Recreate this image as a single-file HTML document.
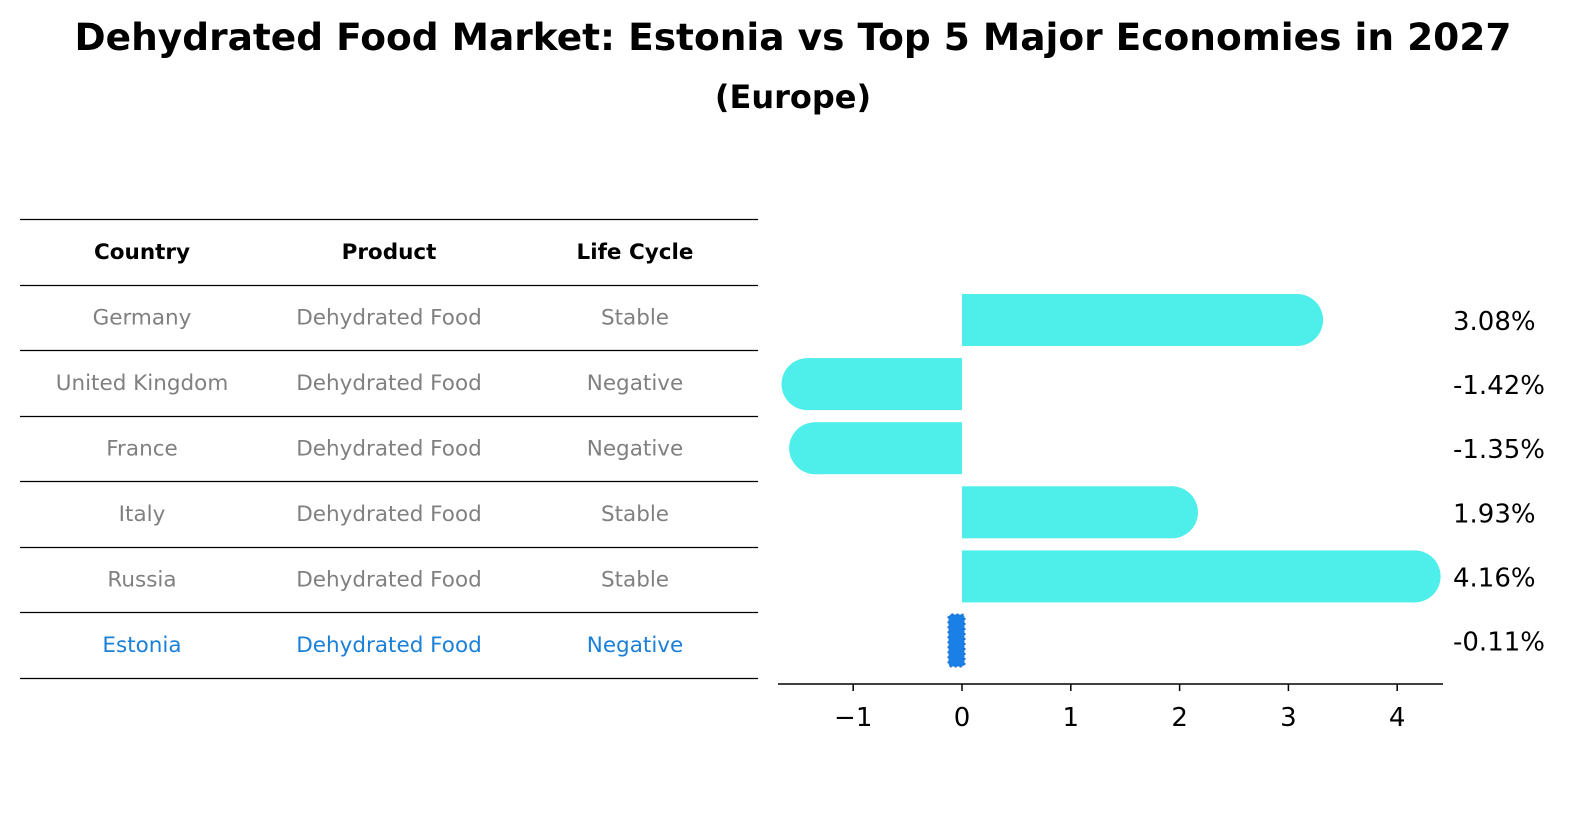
<!DOCTYPE html>
<html><head><meta charset="utf-8">
<style>
body{margin:0;background:#fff;font-family:"Liberation Sans","DejaVu Sans",sans-serif;}
#wrap{position:relative;width:1596px;height:823px;overflow:hidden;}
</style></head>
<body>
<div id="wrap">
<svg id="svg" width="1596" height="823" xmlns="http://www.w3.org/2000/svg">
<text x="793" y="50" text-anchor="middle" font-size="37.5" font-weight="bold" font-family="DejaVu Sans, Liberation Sans, sans-serif">Dehydrated Food Market: Estonia vs Top 5 Major Economies in 2027</text>
<text x="793" y="108" text-anchor="middle" font-size="32" font-weight="bold" font-family="DejaVu Sans, Liberation Sans, sans-serif">(Europe)</text>
<g id="table"></g>
<g id="bars"></g>
</svg>
</div>
<script>
const countries=["Germany","United Kingdom","France","Italy","Russia","Estonia"];
const products=["Dehydrated Food","Dehydrated Food","Dehydrated Food","Dehydrated Food","Dehydrated Food","Dehydrated Food"];
const lifeCycles=["Stable","Negative","Negative","Stable","Stable","Negative"];
const growth=[3.08,-1.42,-1.35,1.93,4.16,-0.11];
const valueLabels=["3.08%","-1.42%","-1.35%","1.93%","4.16%","-0.11%"];
const ticks=[-1,0,1,2,3,4];

const NS="http://www.w3.org/2000/svg";
function mk(tag,attrs,parent,text){const e=document.createElementNS(NS,tag);for(const k in attrs)e.setAttribute(k,attrs[k]);if(text!==undefined)e.textContent=text;parent.appendChild(e);return e;}
const FONT="DejaVu Sans, Liberation Sans, sans-serif";

// table
const tbl=document.getElementById('table');
const lineYs=[219,285,350,416,481,547,612,678];
lineYs.forEach((y,i)=>{const l=mk('line',{x1:20,x2:758,y1:y+0.5,y2:y+0.5,stroke:'#000','stroke-width':1.2},tbl);

});
const colX=[142,389,635];
["Country","Product","Life Cycle"].forEach((h,i)=>{const t=mk('text',{x:colX[i],y:259,'text-anchor':'middle','font-size':21.5,'font-weight':'bold','font-family':FONT},tbl,h);

});
countries.forEach((c,r)=>{
  const y=(lineYs[r+1]+lineYs[r+2])/2+7;
  const col=r===countries.length-1?'#1a80d9':'#808080';
  [c,products[r],lifeCycles[r]].forEach((v,i)=>{const t=mk('text',{x:colX[i],y:y,'text-anchor':'middle','font-size':21.5,fill:col,'font-family':FONT},tbl,v);
  
  });
});

// bars
const g=document.getElementById('bars');
const x0=962,unit=108.8;
const xs=v=>x0+v*unit;
const rowY=i=>320+i*64.1;
const bh=52,r=25;
growth.forEach((v,i)=>{
  const cy=rowY(i);
  const last=i===growth.length-1;
  if(!last){
    const xe=xs(v);
    const left=Math.min(x0,xe),w=Math.abs(xe-x0);
    const b=mk('rect',{x:left,y:cy-bh/2,width:w,height:bh,fill:'#4eeeea'},g);
    
    
    const cap=mk('circle',{cx:xe,cy:cy,r:r+1,fill:'#4eeeea'},g);
    
    
  } else {
    const xe=xs(v);
    const b=mk('rect',{x:xe-1.5,y:cy-26,width:Math.abs(x0-xe)+4,height:52,rx:3,fill:'#1a80e8',stroke:'#1a6fd0','stroke-width':2,'stroke-dasharray':'2 3'},g);
    
    
  }
  const t=mk('text',{x:1453,y:cy+10,'font-size':26,'font-family':FONT},g,valueLabels[i]);
  
  
});
const ax=mk('line',{x1:778,x2:1443,y1:684,y2:684,stroke:'#000','stroke-width':1.5},g);


ticks.forEach(tv=>{
  const x=xs(tv);
  const tk=mk('line',{x1:x,x2:x,y1:684,y2:691,stroke:'#000','stroke-width':1.5},g);
  
  
  const lb=mk('text',{x:x,y:726,'text-anchor':'middle','font-size':26,'font-family':FONT},g,tv<0?'\u2212'+Math.abs(tv):String(tv));
  
  
});
</script>
</body></html>
